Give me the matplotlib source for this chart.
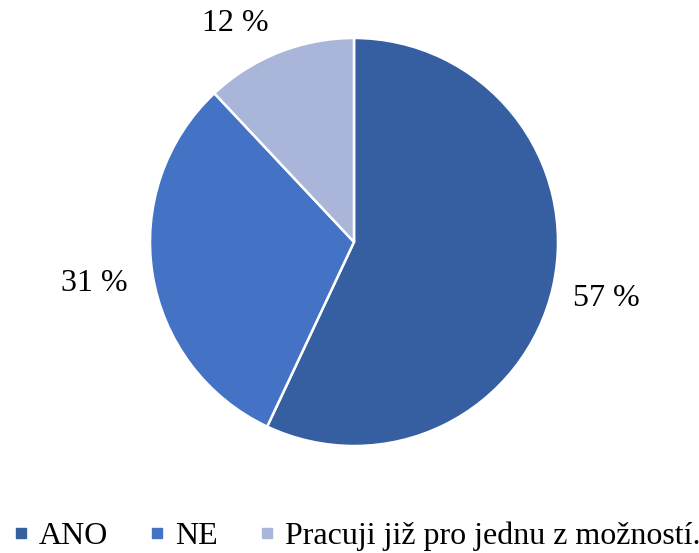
import numpy as np
import matplotlib
matplotlib.use('Agg')
import matplotlib.pyplot as plt
from matplotlib.lines import Line2D

# data
categories = ['ANO', 'NE', 'Pracuji již pro jednu z možností.']
shares = [57, 31, 12]
colors = ['#365FA1', '#4472C4', '#A9B6DA']

plt.rcParams['font.family'] = ['Liberation Serif', 'DejaVu Serif']

fig = plt.figure(figsize=(6.99, 5.53), dpi=100)
W, H = 699, 553
cx, cy, r = 354, 242, 204
ax = fig.add_axes([(cx - r) / W, (H - cy - r) / H, 2 * r / W, 2 * r / H])

wedges, _ = ax.pie(shares, colors=colors, startangle=90, counterclock=False,
                   wedgeprops=dict(edgecolor='white', linewidth=1.8))
ax.set_xlim(-1, 1)
ax.set_ylim(-1, 1)

# label placement (distance from centre, in radii), excel "best fit" style
label_dist = [1.27, 1.29, 1.22]
angle_shift = [0, 0, 7]
for w, val, d, sh in zip(wedges, shares, label_dist, angle_shift):
    ang = np.deg2rad((w.theta1 + w.theta2) / 2 + sh)
    ax.text(d * np.cos(ang), d * np.sin(ang), f'{val} %', ha='center', va='center',
            fontsize=23, clip_on=False)

handles = [Line2D([], [], marker='s', linestyle='none', markersize=7.5,
                  markerfacecolor=c, markeredgecolor=c) for c in colors]
fig.legend(handles, categories, loc='center', bbox_to_anchor=(0.51, 1 - 536 / H),
           ncol=3, frameon=False, fontsize=23, handlelength=0.5, handletextpad=0.3,
           columnspacing=1.3, borderpad=0, borderaxespad=0)

fig.savefig('out.png', dpi=100)
